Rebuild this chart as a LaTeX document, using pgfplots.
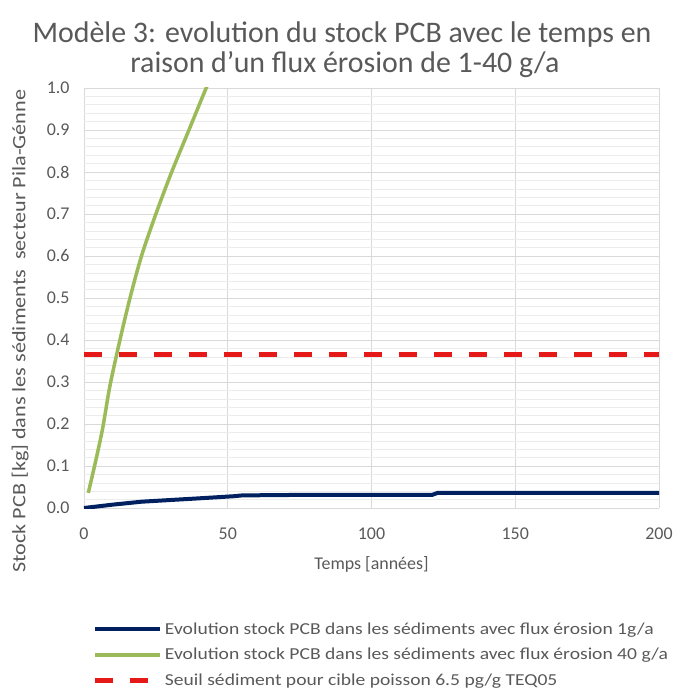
\documentclass[border=0pt]{standalone}
\usepackage{pgfplots}
\pgfplotsset{compat=1.18}
\usetikzlibrary{calc}
\usepackage{fontspec}
\setmainfont{Carlito}
\newfontfamily\widefont{Carlito}[FakeStretch=1.17]
\definecolor{txtgrey}{RGB}{89,89,89}
\definecolor{gridgrey}{RGB}{217,217,217}
\definecolor{minorgrey}{RGB}{236,236,236}
\definecolor{navy}{RGB}{0,32,96}
\definecolor{olive}{RGB}{155,187,89}
\definecolor{seuil}{RGB}{230,25,25}
\begin{document}
\begin{tikzpicture}
\begin{axis}[
  name=ax,
  scale only axis,
  width=575bp, height=420bp,
  xmin=0, xmax=200, ymin=0, ymax=1,
  xtick={0,50,...,200},
  ytick={0,0.1,...,1.0},
  minor y tick num=4,
  grid=both,
  major grid style={gridgrey, line width=0.8pt},
  minor grid style={minorgrey, line width=0.6pt},
  axis line style={draw=none},
  major tick length=0pt, minor tick length=0pt,
  tick label style={font=\fontsize{18}{20}\selectfont, text=txtgrey},
  /pgf/number format/assume math mode=true,
  yticklabel style={/pgf/number format/fixed, /pgf/number format/fixed zerofill,
    /pgf/number format/precision=1, xshift=-11bp},
  xticklabel style={yshift=-16bp},
  xlabel={Temps [années]},
  xlabel style={font=\fontsize{18}{20}\selectfont, text=txtgrey, yshift=-10bp},
  ylabel={Stock PCB [kg] dans les sédiments\ \ secteur Pila-Génne},
  ylabel style={font=\widefont\fontsize{19}{21}\selectfont, text=txtgrey,
    at={(rel axis cs:-0.111,0.421)}, anchor=center},
  clip=true,
  legend cell align=left,
  legend style={draw=none, fill=none, font=\widefont\fontsize{16.8}{18}\selectfont, text=txtgrey,
    at={(rel axis cs:0.010,-0.263)}, anchor=north west, row sep=8.5bp},
  legend image code/.code={\draw[#1] (0bp,0bp) -- (65bp,0bp);},
]
\addplot[navy, line width=4bp] coordinates {
  (0,0.000) (10,0.008) (20,0.015) (30,0.019) (40,0.023) (52,0.028)
  (55,0.030) (72,0.031) (121,0.031) (123,0.036) (200,0.036)
};
\addlegendentry{Evolution stock PCB dans les sédiments avec flux érosion 1g/a}
\addplot[olive, line width=3.5bp, smooth] coordinates {
  (1.5,0.036) (4,0.11) (6.5,0.19) (9,0.29) (12.5,0.40) (16,0.50)
  (20,0.60) (25,0.70) (30.5,0.80) (36.5,0.90) (42.5,1.0) (44,1.02)
};
\addlegendentry{Evolution stock PCB dans les sédiments avec flux érosion 40 g/a}
\addplot[seuil, line width=5bp, dash pattern=on 18bp off 17bp] coordinates {
  (0,0.365) (200,0.365)
};
\addlegendentry{Seuil sédiment pour cible poisson 6.5 pg/g TEQ05}
\end{axis}
\node[font=\fontsize{30}{31}\selectfont, text=txtgrey, anchor=base]
  at ($(ax.north west)+(258bp,45bp)$)
  {Modèle 3: evolution du stock PCB avec le temps en};
\node[font=\fontsize{30}{31}\selectfont, text=txtgrey, anchor=base]
  at ($(ax.north west)+(261bp,15bp)$)
  {raison d'un flux érosion de 1-40 g/a};
\pgfresetboundingbox
\path[use as bounding box] ($(ax.south west)+(-84bp,-185bp)$) rectangle ($(ax.north west)+(591bp,88bp)$);
\end{tikzpicture}
\end{document}
